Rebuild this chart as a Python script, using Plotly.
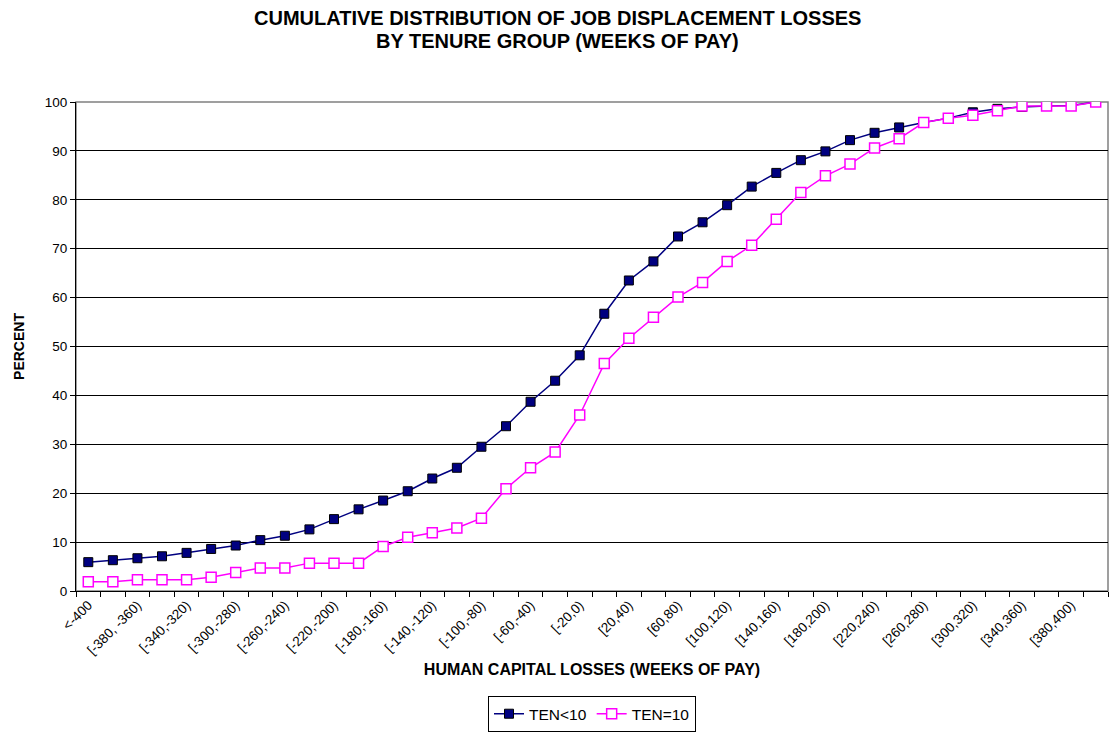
import plotly.graph_objects as go

# Categories of human capital losses (weeks of pay)
categories = ['<-400', '[-400,-380)', '[-380, -360)', '[-360,-340)', '[-340,-320)', '[-320,-300)',
              '[-300,-280)', '[-280,-260)', '[-260,-240)', '[-240,-220)', '[-220,-200)', '[-200,-180)',
              '[-180,-160)', '[-160,-140)', '[-140,-120)', '[-120,-100)', '[-100,-80)', '[-80,-60)',
              '[-60,-40)', '[-40,-20)', '[-20,0)', '[0,20)', '[20,40)', '[40,60)', '[60,80)', '[80,100)',
              '[100,120)', '[120,140)', '[140,160)', '[160,180)', '[180,200)', '[200,220)', '[220,240)',
              '[240,260)', '[260,280)', '[280,300)', '[300,320)', '[320,340)', '[340,360)', '[360,380)',
              '[380,400)', '>=400']

# Cumulative percent, tenure < 10
ten_lt10 = [5.9, 6.3, 6.7, 7.1, 7.8, 8.6, 9.3, 10.4, 11.3, 12.6, 14.7, 16.7, 18.5, 20.4,
            23.0, 25.2, 29.5, 33.7, 38.7, 43.0, 48.2, 56.7, 63.5, 67.4, 72.5, 75.4, 78.9,
            82.7, 85.5, 88.1, 89.9, 92.2, 93.7, 94.8, 95.8, 96.7, 97.9, 98.6, 99.0, 99.2, 99.3, 100.0]

# Cumulative percent, tenure = 10
ten_eq10 = [1.9, 1.9, 2.3, 2.3, 2.3, 2.8, 3.8, 4.7, 4.7, 5.7, 5.7, 5.7, 9.1, 11.0,
            11.9, 12.9, 14.9, 20.9, 25.2, 28.4, 36.0, 46.5, 51.7, 56.0, 60.1, 63.1, 67.4,
            70.7, 76.0, 81.5, 84.9, 87.3, 90.6, 92.5, 95.8, 96.7, 97.3, 98.2, 99.2, 99.2, 99.2, 100.0]

xi = list(range(len(categories)))
font = 'Liberation Sans, Arial, sans-serif'

fig = go.Figure()
fig.add_trace(go.Scatter(
    x=xi, y=ten_lt10, name='TEN<10', mode='lines+markers',
    line=dict(color='#000080', width=1.5),
    marker=dict(symbol='square', size=9, color='#000080', line=dict(color='#000000', width=1))))
fig.add_trace(go.Scatter(
    x=xi, y=ten_eq10, name='TEN=10', mode='lines+markers',
    line=dict(color='#FF00FF', width=1.5),
    marker=dict(symbol='square', size=10, color='#FFFFFF', line=dict(color='#FF00FF', width=1.5))))

# gray plot border (top / right)
fig.add_shape(type='rect', xref='paper', yref='paper', x0=0, x1=1, y0=0, y1=1,
              line=dict(color='#808080', width=1.5), layer='between')

fig.update_layout(
    width=1114, height=752,
    paper_bgcolor='white', plot_bgcolor='white',
    margin=dict(l=76, r=6, t=102, b=161),
    font=dict(family=font, size=14, color='black'),
    showlegend=True,
    legend=dict(orientation='h', x=0.5, xanchor='center', y=-0.215, yanchor='top',
                bordercolor='black', borderwidth=1, font=dict(size=15.5),
                itemwidth=30, tracegroupgap=0),
    xaxis=dict(
        range=[-0.5, len(categories) - 0.5],
        tickmode='array', tickvals=xi[::2], ticktext=categories[::2],
        tickangle=-45, ticks='', showgrid=False, zeroline=False,
        showline=True, linecolor='black', linewidth=1,
        tickfont=dict(size=13.5),
        minor=dict(tickmode='linear', tick0=-0.5, dtick=1, ticks='outside',
                   ticklen=5, tickcolor='black', showgrid=False),
        title=dict(text='<b>HUMAN CAPITAL LOSSES (WEEKS OF PAY)</b>', font=dict(size=16), standoff=7)),
    yaxis=dict(
        range=[0, 100], tickmode='linear', tick0=0, dtick=10,
        ticks='outside', ticklen=5, tickcolor='black',
        showgrid=True, gridcolor='black', gridwidth=1, zeroline=False,
        showline=True, linecolor='black', linewidth=1,
        tickfont=dict(size=13.5),
        title=dict(text='<b>PERCENT</b>', font=dict(size=14), standoff=16)),
    annotations=[
        dict(text='<b>CUMULATIVE DISTRIBUTION OF JOB DISPLACEMENT LOSSES</b>', xref='paper', yref='paper',
             x=0.5, y=1, xanchor='center', yanchor='middle', yshift=84, showarrow=False,
             font=dict(size=20), xshift=-35),
        dict(text='<b>BY TENURE GROUP (WEEKS OF PAY)</b>', xref='paper', yref='paper',
             x=0.5, y=1, xanchor='center', yanchor='middle', yshift=61, showarrow=False,
             font=dict(size=20), xshift=-35),
    ],
)

fig.write_html("out.html", config={'displayModeBar': False},
               post_script="document.body.style.margin='0';")
